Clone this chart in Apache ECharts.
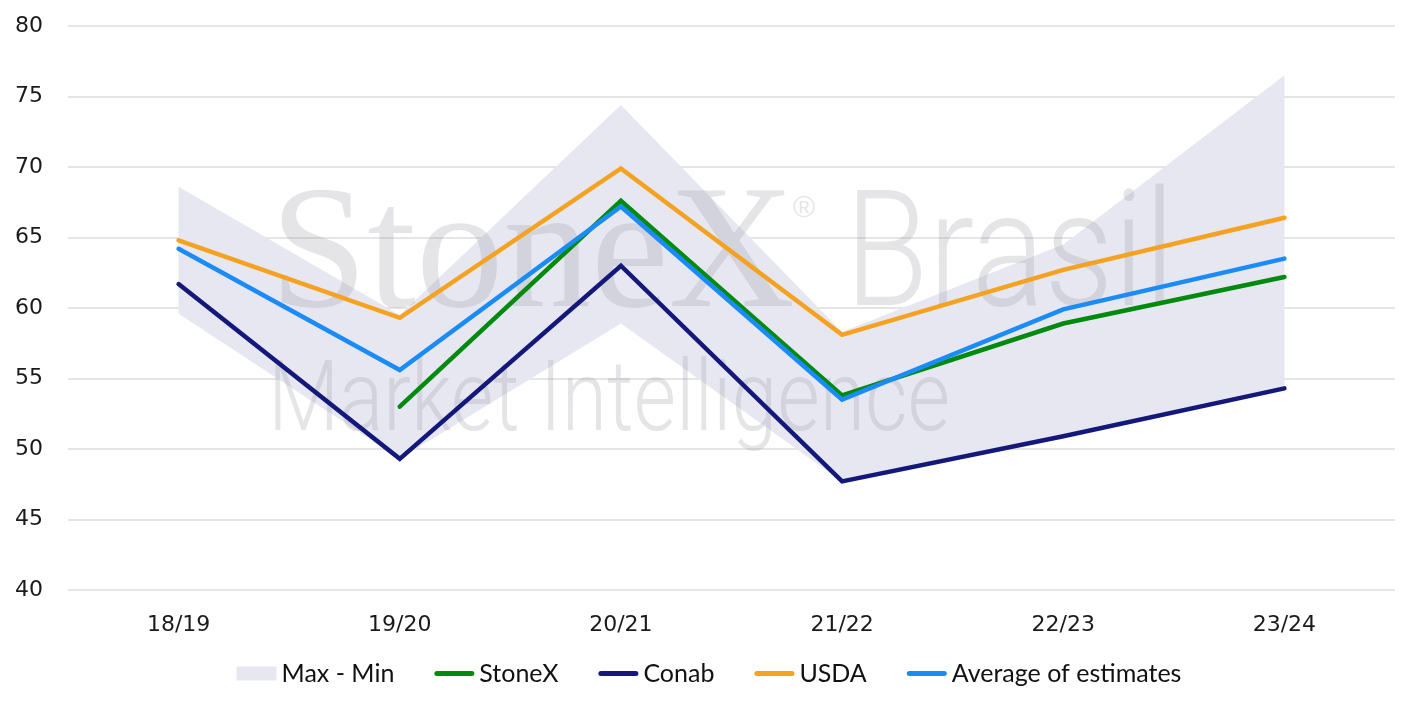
<!DOCTYPE html>
<html><head><meta charset="utf-8">
<script src="https://cdn.jsdelivr.net/npm/echarts@6/dist/echarts.min.js"></script>
<style>html,body{margin:0;padding:0;background:#fff}#c{width:1418px;height:709px}</style>
</head><body><div id="c"></div>
<script>
const categories = ['18/19', '19/20', '20/21', '21/22', '22/23', '23/24'];
const bandMax = [68.6, 59.5, 74.4, 58.3, 64.5, 76.5];
const bandMin = [59.6, 49.3, 58.9, 47.7, 50.9, 54.3];
const stonex = [null, 53.0, 67.6, 53.8, 58.9, 62.2];
const conab = [61.7, 49.3, 63.0, 47.7, 50.9, 54.3];
const usda = [64.8, 59.3, 69.9, 58.1, 62.7, 66.4];
const average = [64.2, 55.6, 67.2, 53.5, 59.9, 63.5];
const yMin = 40, yMax = 80, yStep = 5;

const bandRange = bandMax.map((v, i) => +(v - bandMin[i]).toFixed(2));
const chart = echarts.init(document.getElementById('c'));
const wm = 'rgba(150,150,158,0.25)';
const lineIcon = 'path://M2.5,0 L37.5,0 A2.5,2.5 0 0 1 37.5,5 L2.5,5 A2.5,2.5 0 0 1 2.5,0 Z';
function lineSeries(name, data, color) {
  return {
    name, type: 'line', data, z: 3, symbol: 'none', showSymbol: false,
    connectNulls: false, silent: true,
    itemStyle: { color },
    lineStyle: { color, width: 4.5, cap: 'round', join: 'miter' }
  };
}
chart.setOption({
  animation: false,
  grid: { left: 68, right: 23, top: 26, bottom: 119, containLabel: false },
  xAxis: {
    type: 'category', data: categories, boundaryGap: true,
    axisLine: { show: false }, axisTick: { show: false },
    axisLabel: { color: '#1a1a1a', fontSize: 22, fontFamily: 'DejaVu Sans', margin: 24 }
  },
  yAxis: {
    type: 'value', min: yMin, max: yMax, interval: yStep,
    axisLine: { show: false }, axisTick: { show: false },
    axisLabel: { color: '#1a1a1a', fontSize: 22, fontFamily: 'DejaVu Sans', margin: 25 },
    splitLine: { lineStyle: { color: '#dddddd', width: 1.5 } }
  },
  legend: {
    left: 'center', top: 656,
    itemWidth: 40, itemHeight: 14, itemGap: 40, symbolKeepAspect: true,
    textStyle: { fontSize: 25, fontFamily: 'Lato', color: '#111' },
    data: [
      { name: 'Max - Min', icon: 'rect' },
      { name: 'StoneX', icon: lineIcon },
      { name: 'Conab', icon: lineIcon },
      { name: 'USDA', icon: lineIcon },
      { name: 'Average of estimates', icon: lineIcon }
    ]
  },
  graphic: [
    { type: 'text', z: 2, x: 270, y: 260, silent: true,
      style: { text: 'StoneX', font: '175px "Liberation Serif"', fill: wm, verticalAlign: 'middle' } },
    { type: 'text', z: 2, x: 793, y: 209, silent: true,
      style: { text: '®', font: '30px "Liberation Sans"', fill: wm, verticalAlign: 'middle' } },
    { type: 'text', z: 2, x: 845, y: 264, scaleX: 0.84, silent: true,
      style: { text: 'Brasil', font: '300 162px Roboto', fill: wm, verticalAlign: 'middle' } },
    { type: 'text', z: 2, x: 268, y: 405, scaleX: 0.84, silent: true,
      style: { text: 'Market Intelligence', font: '300 98px Roboto', fill: wm, verticalAlign: 'middle' } }
  ],
  series: [
    { name: 'bandBase', type: 'line', stack: 'band', data: bandMin, z: 1, symbol: 'none',
      silent: true, lineStyle: { width: 0, opacity: 0 } },
    { name: 'Max - Min', type: 'line', stack: 'band', data: bandRange, z: 1, symbol: 'none',
      silent: true, itemStyle: { color: '#e6e7f1' },
      lineStyle: { width: 0, opacity: 0 }, areaStyle: { color: '#e6e7f1', opacity: 1 } },
    lineSeries('StoneX', stonex, '#028a0f'),
    lineSeries('Conab', conab, '#13187a'),
    lineSeries('USDA', usda, '#f4a21f'),
    lineSeries('Average of estimates', average, '#1b8cf7')
  ]
});
</script></body></html>
